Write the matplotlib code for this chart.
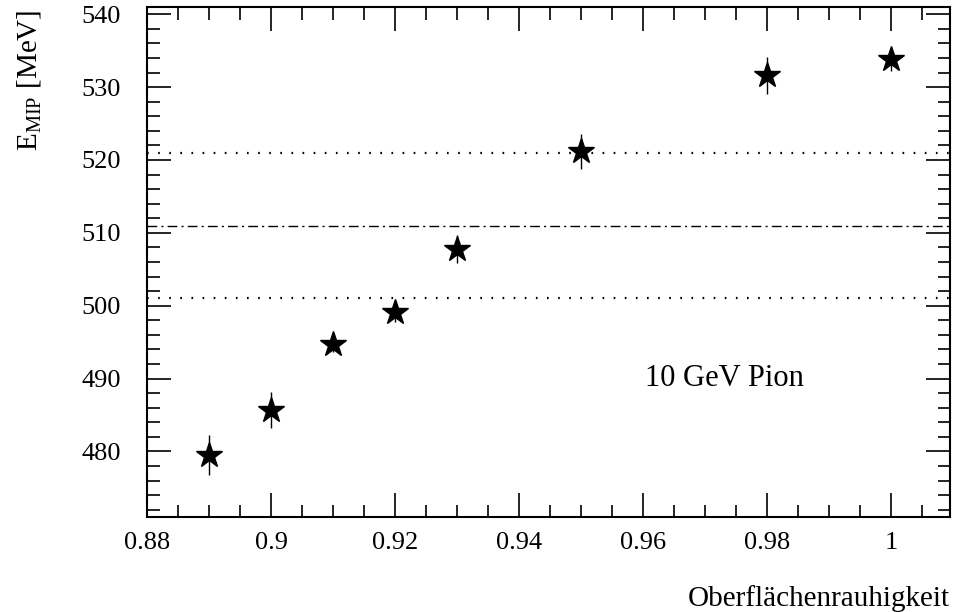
import numpy as np
import matplotlib
matplotlib.use('Agg')
import matplotlib.pyplot as plt
from matplotlib.ticker import MultipleLocator

plt.rcParams['font.family'] = ['Liberation Serif', 'DejaVu Serif']
plt.rcParams['mathtext.fontset'] = 'custom'
plt.rcParams['mathtext.rm'] = 'Liberation Serif'
plt.rcParams['lines.scale_dashes'] = False

roughness = [0.89, 0.90, 0.91, 0.92, 0.93, 0.95, 0.98, 1.00]
e_mip = [479.5, 485.7, 494.7, 499.2, 507.8, 521.2, 531.6, 533.8]
e_err = [2.7, 2.5, 1.0, 1.5, 1.9, 2.4, 2.5, 1.6]

ref_center = 511
ref_band = [501, 521]

fig = plt.figure(figsize=(9.54, 6.12), dpi=100)
ax = fig.add_axes([0.1541, 0.1552, 0.8417, 0.8334])

ax.errorbar(roughness, e_mip, yerr=e_err, fmt='none', ecolor='black', elinewidth=1.0, capsize=0)
ax.plot(roughness, e_mip, linestyle='none', marker='*', color='black', markersize=19, zorder=3)

for yv in ref_band:
    ax.axhline(yv, color='black', linewidth=1.6, linestyle=(0, (1.2, 6.8)))
ax.axhline(ref_center, color='black', linewidth=1.0, linestyle=(0, (7, 3, 1.5, 3)))

ax.set_xlim(0.88, 1.0095)
ax.set_ylim(471, 541)
ax.xaxis.set_major_locator(MultipleLocator(0.02))
ax.xaxis.set_minor_locator(MultipleLocator(0.005))
ax.yaxis.set_major_locator(MultipleLocator(10))
ax.yaxis.set_minor_locator(MultipleLocator(2))
ax.xaxis.set_major_formatter(plt.FuncFormatter(lambda v, p: ('%.2f' % v).rstrip('0').rstrip('.')))

ax.tick_params(which='both', direction='in', top=True, right=True, labelsize=19, width=1.2)
ax.tick_params(axis='x', pad=11)
ax.tick_params(axis='y', pad=19)
ax.tick_params(which='major', length=17)
ax.tick_params(which='minor', length=9)
for s in ax.spines.values():
    s.set_linewidth(1.5)

ax.text(0.9603, 490.0, '10 GeV Pion', fontsize=22, ha='left', va='center')

fig.text(0.9958, 0.022, 'Oberflächenrauhigkeit', fontsize=21, ha='right', va='center')
fig.text(0.031, 0.985, r'E$_{\mathrm{MIP}}$ [MeV]', fontsize=21, rotation=90, ha='center', va='top')

fig.savefig('out.png', dpi=100)
